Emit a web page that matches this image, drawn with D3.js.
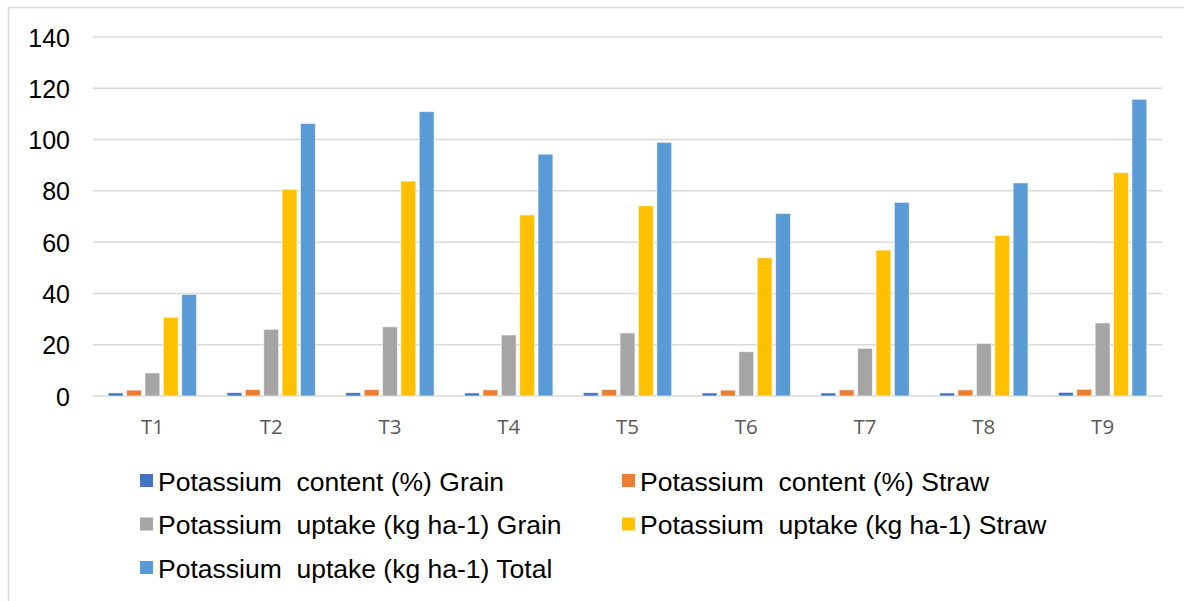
<!DOCTYPE html>
<html>
  <head>
    <title>Potassium content and uptake</title>
    <script src="https://d3js.org/d3.v7.min.js"></script>
    <style>
      body { margin: 0; background: #fff; }
      .legend text { white-space: pre; }
    </style>
  </head>
  <body>
    <div id="chart"></div>
    <script>
      // Data
      var treatments = ["T1", "T2", "T3", "T4", "T5", "T6", "T7", "T8", "T9"];
      var seriesNames = [
        "Potassium  content (%) Grain",
        "Potassium  content (%) Straw",
        "Potassium  uptake (kg ha-1) Grain",
        "Potassium  uptake (kg ha-1) Straw",
        "Potassium  uptake (kg ha-1) Total"
      ];
      var contentGrain = [1.2, 1.3, 1.3, 1.2, 1.3, 1.2, 1.2, 1.2, 1.4];
      var contentStraw = [2.3, 2.5, 2.5, 2.4, 2.5, 2.3, 2.4, 2.4, 2.6];
      var uptakeGrain = [9.0, 26.0, 27.0, 23.8, 24.6, 17.3, 18.6, 20.5, 28.5];
      var uptakeStraw = [30.7, 80.6, 83.8, 70.6, 74.2, 53.9, 56.9, 62.6, 87.1];
      var uptakeTotal = [39.6, 106.3, 110.9, 94.3, 98.9, 71.2, 75.5, 83.1, 115.7];
      var yTicks = [0, 20, 40, 60, 80, 100, 120, 140];
      var colors = ["#4472C4", "#ED7D31", "#A5A5A5", "#FFC000", "#5B9BD5"];

      var seriesValues = [contentGrain, contentStraw, uptakeGrain, uptakeStraw, uptakeTotal];

      var width = 1184, height = 601;
      var plotLeft = 93, plotRight = 1162, plotTop = 37, plotBottom = 396;

      var svg = d3.select("#chart")
        .append("svg")
        .attr("width", width)
        .attr("height", height);

      // chart frame
      svg.append("rect")
        .attr("x", 8.5)
        .attr("y", 7.5)
        .attr("width", width)
        .attr("height", height)
        .attr("fill", "none")
        .attr("stroke", "#d9d9d9")
        .attr("stroke-width", 1.5);

      var x0 = d3.scaleBand()
        .domain(treatments)
        .range([plotLeft, plotRight]);

      var x1 = d3.scaleBand()
        .domain(d3.range(seriesNames.length))
        .range([x0.bandwidth() * 0.128, x0.bandwidth() * 0.872])
        .paddingInner(0.19);

      var y = d3.scaleLinear()
        .domain([0, 140])
        .range([plotBottom, plotTop]);

      // gridlines
      svg.append("g")
        .selectAll("line")
        .data(yTicks)
        .enter()
        .append("line")
        .attr("x1", plotLeft)
        .attr("x2", plotRight)
        .attr("y1", function(d) { return y(d); })
        .attr("y2", function(d) { return y(d); })
        .attr("stroke", "#d9d9d9")
        .attr("stroke-width", 1.5);

      // y axis labels
      var yAxis = svg.append("g")
        .attr("transform", "translate(" + (plotLeft - 23) + ",0)")
        .call(d3.axisLeft(y).tickValues(yTicks).tickSize(0).tickPadding(0));
      yAxis.select(".domain").remove();
      yAxis.selectAll("text")
        .attr("font-family", "Liberation Sans, Arial, sans-serif")
        .attr("font-size", 25)
        .attr("fill", "#000")
        .attr("dy", "0.36em");

      // x axis labels
      var xAxis = svg.append("g")
        .attr("transform", "translate(0," + plotBottom + ")")
        .call(d3.axisBottom(x0).tickSize(0).tickPadding(23));
      xAxis.select(".domain").remove();
      xAxis.selectAll("text")
        .attr("font-family", "Open Sans, sans-serif")
        .attr("font-size", 20.5)
        .attr("fill", "#595959");

      // bars
      var groups = svg.append("g")
        .selectAll("g")
        .data(treatments)
        .enter()
        .append("g")
        .attr("transform", function(d) { return "translate(" + x0(d) + ",0)"; });

      groups.selectAll("rect")
        .data(function(d, i) {
          return seriesValues.map(function(s, k) { return { k: k, v: s[i] }; });
        })
        .enter()
        .append("rect")
        .attr("x", function(d) { return x1(d.k); })
        .attr("y", function(d) { return y(d.v); })
        .attr("width", x1.bandwidth())
        .attr("height", function(d) { return y(0) - y(d.v); })
        .attr("fill", function(d) { return colors[d.k]; })
        .attr("stroke", "#fff")
        .attr("stroke-opacity", 0.6)
        .attr("stroke-width", 1);

      // legend
      var legend = svg.append("g")
        .attr("class", "legend")
        .selectAll("g")
        .data(seriesNames)
        .enter()
        .append("g")
        .attr("transform", function(d, i) {
          var cx = i % 2 === 0 ? 140 : 622;
          var cy = 481 + Math.floor(i / 2) * 43.5;
          return "translate(" + cx + "," + cy + ")";
        });

      legend.append("rect")
        .attr("x", 0)
        .attr("y", -7)
        .attr("width", 13)
        .attr("height", 13)
        .attr("fill", function(d, i) { return colors[i]; });

      legend.append("text")
        .attr("x", 18)
        .attr("y", 0)
        .attr("dy", "0.36em")
        .attr("font-family", "Liberation Sans, Arial, sans-serif")
        .attr("font-size", 26.5)
        .attr("fill", "#000")
        .attr("xml:space", "preserve")
        .text(function(d) { return d; });
    </script>
  </body>
</html>
